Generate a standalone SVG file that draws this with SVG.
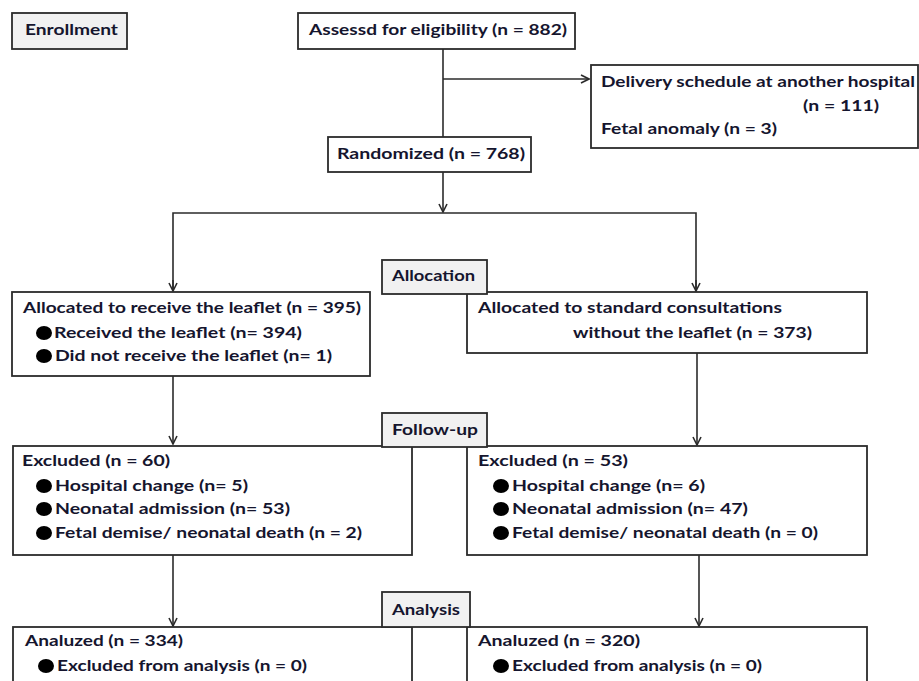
<svg xmlns="http://www.w3.org/2000/svg" width="919" height="681" viewBox="0 0 919 681">
<style>
.box{fill:#fff;stroke:#2b2b2b;stroke-width:1.8}
.lbl{fill:#f1f1f1;stroke:#2b2b2b;stroke-width:1.8}
.t{font-family:Lato,"Liberation Sans",sans-serif;font-weight:700;font-size:15px;fill:#15152e}
.ln{fill:none;stroke:#2b2b2b;stroke-width:1.6}
.b{fill:#000}
</style>
<defs>
<marker id="ah" viewBox="0 0 10 10" refX="9" refY="5" markerWidth="10" markerHeight="10" markerUnits="userSpaceOnUse" orient="auto">
<path d="M1,1 L9,5 L1,9" fill="none" stroke="#2b2b2b" stroke-width="1.6"/>
</marker>
</defs>
<rect width="919" height="681" fill="#fff"/>
<g id="connectors">
<line class="ln" x1="443" y1="49" x2="443" y2="137"/>
<line class="ln" x1="443" y1="79" x2="589" y2="79" marker-end="url(#ah)"/>
<line class="ln" x1="443" y1="172" x2="443" y2="212" marker-end="url(#ah)"/>
<polyline class="ln" points="173,291 173,213 696,213 696,291"/>
<line class="ln" x1="173" y1="280" x2="173" y2="291" marker-end="url(#ah)"/>
<line class="ln" x1="696" y1="280" x2="696" y2="291" marker-end="url(#ah)"/>
<line class="ln" x1="173" y1="376" x2="173" y2="444" marker-end="url(#ah)"/>
<line class="ln" x1="697" y1="353" x2="697" y2="445" marker-end="url(#ah)"/>
<line class="ln" x1="173" y1="555" x2="173" y2="626" marker-end="url(#ah)"/>
<line class="ln" x1="699" y1="555" x2="699" y2="626" marker-end="url(#ah)"/>
</g>
<g id="enrollment"><rect class="lbl" x="12" y="13" width="115" height="36"/><text class="t" x="25" y="35" textLength="93" lengthAdjust="spacingAndGlyphs">Enrollment</text></g>
<g id="assessed"><rect class="box" x="298" y="13" width="277" height="36"/><text class="t" x="309" y="35" textLength="258" lengthAdjust="spacingAndGlyphs">Assessd for eligibility (n = 882)</text></g>
<g id="excluded-pre"><rect class="box" x="591" y="65" width="327" height="83"/>
<text class="t" x="601" y="87" textLength="314" lengthAdjust="spacingAndGlyphs">Delivery schedule at another hospital</text>
<text class="t" x="803" y="111" textLength="76" lengthAdjust="spacingAndGlyphs">(n = 111)</text>
<text class="t" x="601" y="134" textLength="176" lengthAdjust="spacingAndGlyphs">Fetal anomaly (n = 3)</text></g>
<g id="randomized"><rect class="box" x="328" y="137" width="203" height="35"/><text class="t" x="337" y="159" textLength="188" lengthAdjust="spacingAndGlyphs">Randomized (n = 768)</text></g>
<g id="alloc-left"><rect class="box" x="12" y="292" width="358" height="84"/>
<text class="t" x="23" y="313" textLength="338" lengthAdjust="spacingAndGlyphs">Allocated to receive the leaflet (n = 395)</text>
<ellipse class="b" cx="44" cy="333" rx="8" ry="7"/>
<text class="t" x="54" y="338" textLength="248" lengthAdjust="spacingAndGlyphs">Received the leaflet (n= 394)</text>
<ellipse class="b" cx="44" cy="356" rx="8" ry="7"/>
<text class="t" x="55" y="361" textLength="277" lengthAdjust="spacingAndGlyphs">Did not receive the leaflet (n= 1)</text></g>
<g id="alloc-right"><rect class="box" x="467" y="292" width="400" height="61"/>
<text class="t" x="478" y="313" textLength="304" lengthAdjust="spacingAndGlyphs">Allocated to standard consultations</text>
<text class="t" x="573" y="338" textLength="239" lengthAdjust="spacingAndGlyphs">without the leaflet (n = 373)</text></g>
<g id="allocation-label"><rect class="lbl" x="382" y="260" width="105" height="34"/><text class="t" x="392" y="281" textLength="83" lengthAdjust="spacingAndGlyphs">Allocation</text></g>
<g id="excl-left"><rect class="box" x="13" y="446" width="399" height="109"/>
<text class="t" x="22" y="466" textLength="148" lengthAdjust="spacingAndGlyphs">Excluded (n = 60)</text>
<ellipse class="b" cx="44" cy="486" rx="8" ry="7"/>
<text class="t" x="55" y="491" textLength="193" lengthAdjust="spacingAndGlyphs">Hospital change (n= 5)</text>
<ellipse class="b" cx="44" cy="509" rx="8" ry="7"/>
<text class="t" x="55" y="514" textLength="235" lengthAdjust="spacingAndGlyphs">Neonatal admission (n= 53)</text>
<ellipse class="b" cx="44" cy="533" rx="8" ry="7"/>
<text class="t" x="55" y="538" textLength="307" lengthAdjust="spacingAndGlyphs">Fetal demise/ neonatal death (n = 2)</text></g>
<g id="excl-right"><rect class="box" x="467" y="446" width="400" height="109"/>
<text class="t" x="478" y="466" textLength="150" lengthAdjust="spacingAndGlyphs">Excluded (n = 53)</text>
<ellipse class="b" cx="501" cy="486" rx="8" ry="7"/>
<text class="t" x="512" y="491" textLength="193" lengthAdjust="spacingAndGlyphs">Hospital change (n= 6)</text>
<ellipse class="b" cx="501" cy="509" rx="8" ry="7"/>
<text class="t" x="512" y="514" textLength="236" lengthAdjust="spacingAndGlyphs">Neonatal admission (n= 47)</text>
<ellipse class="b" cx="501" cy="533" rx="8" ry="7"/>
<text class="t" x="512" y="538" textLength="306" lengthAdjust="spacingAndGlyphs">Fetal demise/ neonatal death (n = 0)</text></g>
<g id="followup-label"><rect class="lbl" x="382" y="413" width="105" height="34"/><text class="t" x="392" y="435" textLength="86" lengthAdjust="spacingAndGlyphs">Follow-up</text></g>
<g id="anal-left"><rect class="box" x="13" y="627" width="399" height="70"/>
<text class="t" x="25" y="646" textLength="158" lengthAdjust="spacingAndGlyphs">Analuzed (n = 334)</text>
<ellipse class="b" cx="46" cy="666" rx="8" ry="7"/>
<text class="t" x="57" y="671" textLength="250" lengthAdjust="spacingAndGlyphs">Excluded from analysis (n = 0)</text></g>
<g id="anal-right"><rect class="box" x="467" y="627" width="400" height="70"/>
<text class="t" x="478" y="646" textLength="162" lengthAdjust="spacingAndGlyphs">Analuzed (n = 320)</text>
<ellipse class="b" cx="501" cy="666" rx="8" ry="7"/>
<text class="t" x="512" y="671" textLength="250" lengthAdjust="spacingAndGlyphs">Excluded from analysis (n = 0)</text></g>
<g id="analysis-label"><rect class="lbl" x="382" y="592" width="88" height="35"/><text class="t" x="392" y="615" textLength="68" lengthAdjust="spacingAndGlyphs">Analysis</text></g>
</svg>
